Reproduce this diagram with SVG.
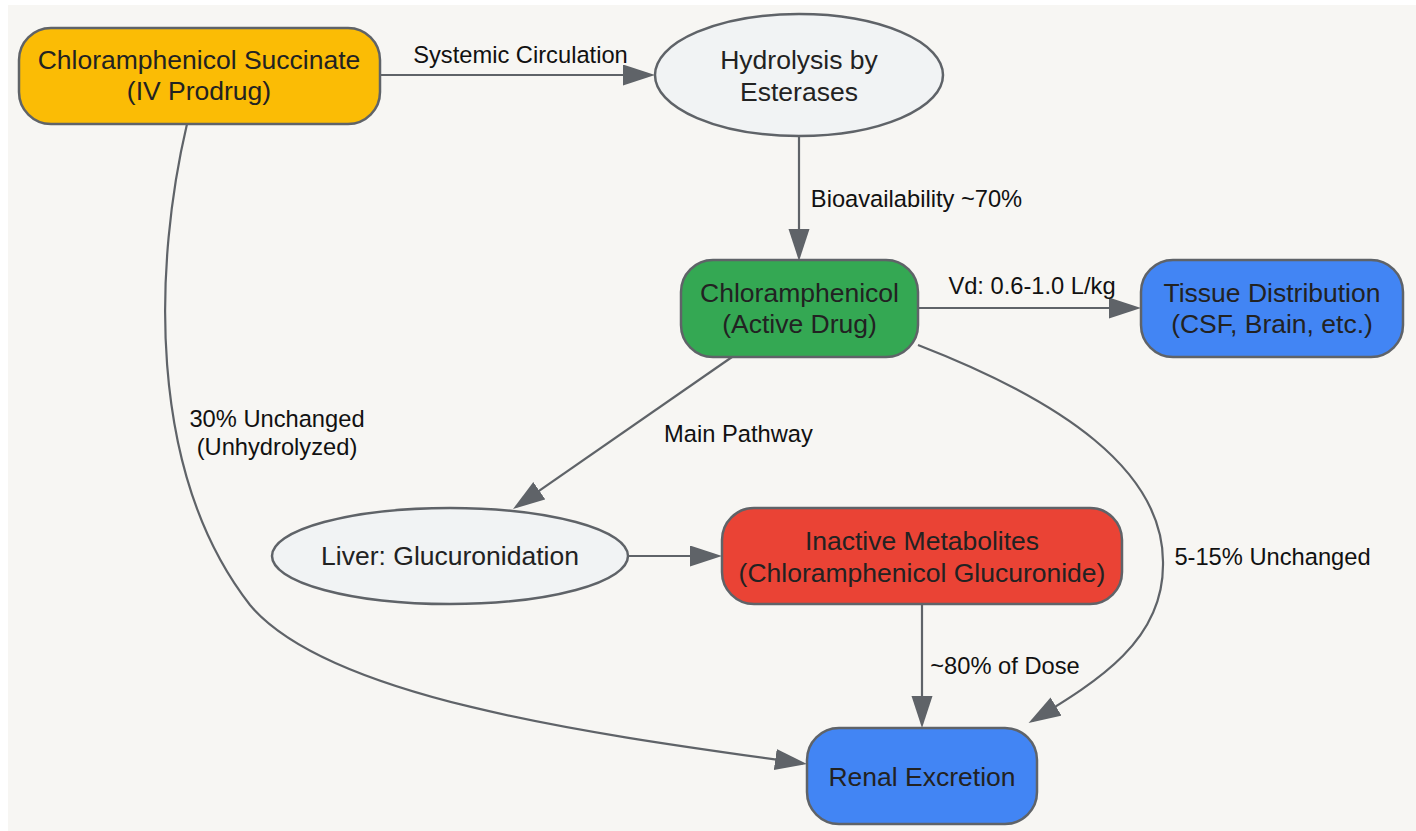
<svg xmlns="http://www.w3.org/2000/svg" width="1416" height="831" viewBox="0 0 1416 831">
<defs>
<style>
.node rect, .node ellipse { stroke: #5f6368; stroke-width: 2.5; }
.nt { font-family: "Liberation Sans", Arial, sans-serif; font-size: 26.5px; fill: #222; text-anchor: middle; }
.el { font-family: "Liberation Sans", Arial, sans-serif; font-size: 23.7px; fill: #111; text-anchor: middle; }
.edge { fill: none; stroke: #5f6368; stroke-width: 2.2; marker-end: url(#arr); }
</style>
<marker id="arr" markerUnits="userSpaceOnUse" markerWidth="34" markerHeight="24" refX="28" refY="10.5" orient="auto">
<path d="M0,0 L32,10.5 L0,21 z" fill="#5f6368"/>
</marker>
</defs>
<rect x="0" y="0" width="1416" height="831" fill="#ffffff"/>
<rect x="8" y="5" width="1408" height="826" fill="#f7f6f3"/>

<g id="connectors">
<path class="edge" d="M380,75 L651,75"/>
<path class="edge" d="M799,136 L799,257"/>
<path class="edge" d="M918,308 L1137,308"/>
<path class="edge" d="M732,357 L516.3,506.7"/>
<path class="edge" d="M628,556 L718,556"/>
<path class="edge" d="M922,604 L922,724"/>
<path class="edge" d="M187,124 C155,260 145,470 250,605 C330,700 600,735 803,763.4"/>
<path class="edge" d="M918,345 C1060,400 1165,470 1163,565 C1163,640 1100,680 1032,721"/>
<text class="el" x="520.5" y="63">Systemic Circulation</text>
<text class="el" x="916.5" y="207">Bioavailability ~70%</text>
<text class="el" x="1032" y="294">Vd: 0.6-1.0 L/kg</text>
<text class="el" x="738.5" y="442">Main Pathway</text>
<text class="el" x="277" y="427">30% Unchanged</text>
<text class="el" x="277" y="455">(Unhydrolyzed)</text>
<text class="el" x="1272.5" y="565">5-15% Unchanged</text>
<text class="el" x="1005" y="674">~80% of Dose</text>
</g>

<g id="succinate" class="node">
<rect x="19" y="28" width="361" height="96" rx="32" fill="#fbbc05"/>
<text class="nt" x="199" y="69">Chloramphenicol Succinate</text>
<text class="nt" x="199" y="100">(IV Prodrug)</text>
</g>
<g id="hydrolysis" class="node">
<ellipse cx="799" cy="75" rx="144" ry="61" fill="#f1f3f4"/>
<text class="nt" x="799" y="69">Hydrolysis by</text>
<text class="nt" x="799" y="101">Esterases</text>
</g>
<g id="chloramphenicol" class="node">
<rect x="681" y="260" width="237" height="97" rx="32" fill="#34a853"/>
<text class="nt" x="799.5" y="302">Chloramphenicol</text>
<text class="nt" x="799.5" y="333">(Active Drug)</text>
</g>
<g id="tissue" class="node">
<rect x="1141" y="260" width="262" height="97" rx="32" fill="#4285f4"/>
<text class="nt" x="1272" y="302">Tissue Distribution</text>
<text class="nt" x="1272" y="333">(CSF, Brain, etc.)</text>
</g>
<g id="liver" class="node">
<ellipse cx="450" cy="556" rx="178" ry="48" fill="#f1f3f4"/>
<text class="nt" x="450" y="565">Liver: Glucuronidation</text>
</g>
<g id="inactive" class="node">
<rect x="722" y="508" width="400" height="96" rx="32" fill="#ea4335"/>
<text class="nt" x="922" y="550">Inactive Metabolites</text>
<text class="nt" x="922" y="582">(Chloramphenicol Glucuronide)</text>
</g>
<g id="renal" class="node">
<rect x="807" y="728" width="230" height="96" rx="32" fill="#4285f4"/>
<text class="nt" x="922" y="786">Renal Excretion</text>
</g>
</svg>
